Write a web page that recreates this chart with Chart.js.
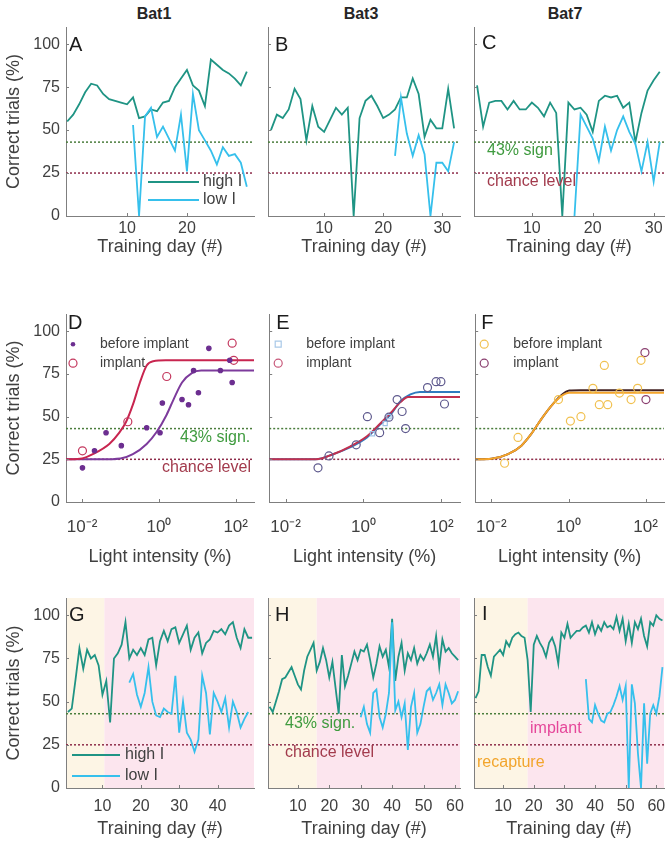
<!DOCTYPE html>
<html>
<head>
<meta charset="utf-8">
<script src="https://cdn.jsdelivr.net/npm/chart.js@4.4.1/dist/chart.umd.min.js"></script>
<style>
  body { margin: 0; background: #fff; }
  #fig { position: relative; width: 671px; height: 845px; overflow: hidden; font-family: "Liberation Sans", Arial, sans-serif; }
  #fig canvas { position: absolute; }
  .bat { position: absolute; top: 5px; width: 80px; margin-left: -40px; text-align: center; font-weight: bold; font-size: 16px; line-height: 18px; color: #262626; }
</style>
</head>
<body>
<div id="fig">
  <div class="bat" style="left:154px">Bat1</div>
  <div class="bat" style="left:361px">Bat3</div>
  <div class="bat" style="left:565px">Bat7</div>
</div>
<script>
// ---- data ----
const yTicks = [0, 25, 50, 75, 100];
const sigLevel = 43, chanceLevel = 25;

// row 1: training (high / low intensity), first day + daily values
const highA_start = 0;
const highA = [55,59,65,72,77,76,71,68,67,66,65,69,57,58,62,61,66,67,75,80,85,76,73,64,91,88,85,83,80,76,84];
const lowA_start = 11;
const lowA = [53,0,58,63,46,52,45,38,59,26,71,50,44,38,30,40,35,36,31,17];

const highB_start = 1;
const highB = [50,59,57,62,74,68,44,64,52,49,56,63,59,63,0,57,67,70,64,57,59,62,69,69,80,71,46,56,51,51,74,51];
const lowB_start = 22;
const lowB = [35,69,48,35,47,36,0,31,31,26,43];

const highC_start = 1;
const highC = [76,52,66,67,67,62,67,62,62,66,63,58,66,60,0,66,62,63,59,49,67,70,69,70,63,66,43,60,73,79,84];
const lowC_start = 17;
const lowC = [0,59,52,45,32,52,38,50,58,49,42,26,43,20,43];

// row 2: psychometric data (light intensity %, correct %) and fitted curves
const dBeforeX = [0.0102,0.021,0.042,0.105,0.48,1.07,1.23,4.0,5.9,8.0,10.7,20,40,70,81];
const dBeforeY = [20,30,40.6,33,43.5,40.6,58,60,57,77,64,90,77,83,70];
const dImplX = [0.0102,0.155,1.6,81,89];
const dImplY = [30,47,73.5,93,83];
const dBeforeFitX = [0.0038,0.03,0.1,0.21,0.48,0.87,1.58,2.4,4,7.2,12.6,300];
const dBeforeFitY = [25,25,25.5,28,34,41,51,60,70,75.5,77,77];
const dImplFitX = [0.0038,0.01,0.019,0.051,0.093,0.14,0.21,0.32,0.48,0.71,1.5,300];
const dImplFitY = [25,25.5,28,34,40.6,47,57,70,80,82.5,83,83];

const eBeforeX = [1.7,3.6,4.5];
const eBeforeY = [40,46,50];
const eImplX = [0.068,0.13,0.65,1.26,2.6,4.5,7.3,9.8,12,44,73,97,120];
const eImplY = [20,27,33.5,50,40.6,49.7,60,53,43,67,70.5,70.5,57.4];
const eBeforeFitX = [0.0038,0.06,0.166,0.45,1.23,2.7,4.9,8.9,16,28,300];
const eBeforeFitY = [25,25,28,32,37.8,45.5,51,59,63,64.5,64.5];
const eImplFitX = [0.0038,0.06,0.166,0.45,1.23,2.7,4.9,8.9,14,300];
const eImplFitY = [25,25,28,32.5,38.5,46,52,58.5,61.5,61.5];

const fBeforeX = [0.022,0.049,0.55,1.12,2.1,4.3,6.3,8.5,10.4,21,42,62,76];
const fBeforeY = [22.7,37.8,60,47.4,50,66.6,57,80,57,63.8,60,66.6,83];
const fImplX = [96,102];
const fImplY = [87.5,60];
const fFitX = [0.0038,0.01,0.027,0.06,0.107,0.195,0.35,0.65,1.05,2,300];
const fBeforeFitY = [25,25.3,28,33,39.7,48.4,56,62,64,64,64];
const fImplFitY = [25,25.3,28,33,39.7,48.4,56,62.5,65.3,65.5,65.5];

// row 3: long training; recapture phase ends at phaseEnd, implant after
const phaseEnd = [10.5, 16, 18];
const highG_start = 1;
const highG = [44,46,63,81,69,80,75,77,71,54,62,38,75,78,83,96,75,80,77,81,77,86,87,71,85,91,85,92,93,84,89,94,80,87,90,78,84,86,91,90,92,89,94,96,87,81,92,87,87];
const lowG_start = 17;
const lowG = [61,66,54,47,55,70,50,42,41,46,44,43,65,32,50,32,28,21,28,65,55,31,55,50,44,52,35,50,44,35,40,44];

const highH_start = 1;
const highH = [47,44,50,56,63,64,67,70,65,60,57,68,76,80,84,68,73,81,74,64,73,58,43,77,59,65,72,79,74,80,79,83,74,64,72,82,76,80,70,98,62,76,84,68,78,74,81,72,77,74,78,83,76,88,70,86,79,81,78,76,74];
const lowH_start = 30;
const lowH = [41,47,37,32,55,57,41,35,43,55,96,45,50,41,49,22,47,55,32,37,47,56,58,51,55,60,48,60,55,49,51,56];

const highI_start = 1;
const highI = [52,56,77,77,70,65,76,78,80,77,85,82,87,89,90,88,87,74,44,83,88,84,81,76,84,87,82,72,90,87,95,87,89,91,91,93,94,90,96,89,94,91,96,93,94,92,99,91,98,85,95,84,96,92,98,88,82,96,94,100,98,97];
const lowI_start = 37;
const lowI = [63,40,38,48,43,39,38,43,44,48,53,59,51,59,0,60,49,20,0,49,14,43,48,43,53,70];

// ---- styling ----
const FONT = '"Liberation Sans", Arial, sans-serif';
const TXT = '#404040';
const AXIS = '#7f7f7f';
const HIGH = '#1f9484';
const LOW = '#36c0ec';
const SIG_COL = '#4a7d3c';
const CHANCE_COL = '#8e2c4a';
const SIG_TXT = '#3f9b3f';
const CHANCE_TXT = '#a23a4c';

const COLS = [{l: 66, w: 188}, {l: 268, w: 192}, {l: 474, w: 190}];
const ROWS = [
  {t: 27, h: 189, xH: 42, pad: 3},
  {t: 312, h: 190, xH: 66, pad: 15},
  {t: 598, h: 190, xH: 52, pad: 9}
];

const supMap = {'-': '\u207B', '0': '\u2070', '1': '\u00B9', '2': '\u00B2'};
function powLabel(v) {
  const e = Math.round(Math.log10(v));
  return '10' + String(e).split('').map(c => supMap[c]).join('');
}

function dayLine(start, vals, color) {
  return {data: vals.map((v, i) => ({x: start + i, y: v})), borderColor: color, borderWidth: 1.8, pointRadius: 0, tension: 0};
}
function fitLine(xs, ys, color) {
  return {data: xs.map((x, i) => ({x: x, y: ys[i]})), borderColor: color, borderWidth: 2, pointRadius: 0, cubicInterpolationMode: 'monotone'};
}
function dots(xs, ys, color, style, r, fill) {
  return {data: xs.map((x, i) => ({x: x, y: ys[i]})), showLine: false, pointStyle: style, pointRadius: r,
          pointBorderColor: color, pointBackgroundColor: fill || 'rgba(0,0,0,0)', pointBorderWidth: 1.2, borderColor: color};
}
function refLines(a, b) {
  return [
    {data: [{x: a, y: sigLevel}, {x: b, y: sigLevel}], borderColor: SIG_COL, borderWidth: 1.5, borderDash: [2, 2], pointRadius: 0},
    {data: [{x: a, y: chanceLevel}, {x: b, y: chanceLevel}], borderColor: CHANCE_COL, borderWidth: 1.5, borderDash: [2, 2], pointRadius: 0}
  ];
}

function drawMark(ctx, kind, color, x, y) {
  ctx.strokeStyle = color; ctx.fillStyle = color; ctx.lineWidth = 1.2;
  ctx.beginPath();
  if (kind === 'circle') {
    ctx.arc(x, y, 4, 0, Math.PI * 2);
    ctx.stroke();
  } else if (kind === 'rect') {
    ctx.rect(x - 3, y - 3, 6, 6);
    ctx.stroke();
  } else {
    ctx.arc(x, y, 2.3, 0, Math.PI * 2);
    ctx.fill();
  }
}

// letters, legends, notes, phase backgrounds, inward ticks
const deco = {
  id: 'deco',
  beforeDraw(chart, args, o) {
    if (o.phase == null) return;
    const {ctx, chartArea: a} = chart;
    const b = chart.scales.x.getPixelForValue(o.phase);
    ctx.save();
    ctx.fillStyle = '#fdf5e5';
    ctx.fillRect(a.left, a.top, b - a.left, a.bottom - a.top);
    ctx.fillStyle = '#fce5ee';
    ctx.fillRect(b, a.top, a.right - b, a.bottom - a.top);
    ctx.restore();
  },
  afterDraw(chart, args, o) {
    const {ctx, chartArea: a} = chart;
    const x = chart.scales.x, y = chart.scales.y;
    ctx.save();
    ctx.strokeStyle = AXIS; ctx.lineWidth = 1;
    ctx.beginPath();
    x.ticks.forEach(t => {
      const p = Math.round(x.getPixelForValue(t.value)) + 0.5;
      ctx.moveTo(p, a.bottom); ctx.lineTo(p, a.bottom - 3);
    });
    y.ticks.forEach(t => {
      const p = Math.round(y.getPixelForValue(t.value)) + 0.5;
      ctx.moveTo(a.left, p); ctx.lineTo(a.left + 3, p);
    });
    ctx.stroke();

    ctx.textAlign = 'left';
    ctx.textBaseline = 'alphabetic';
    ctx.fillStyle = '#1c1c1c';
    ctx.font = '20px ' + FONT;
    ctx.fillText(o.letter, a.left + o.lx, a.top + o.ly);

    (o.notes || []).forEach(n => {
      ctx.font = '16px ' + FONT;
      ctx.fillStyle = n.color;
      ctx.textBaseline = 'middle';
      ctx.fillText(n.text, a.left + n.dx, y.getPixelForValue(n.at) + n.dy);
    });

    (o.legend || []).forEach(l => {
      const lx = a.left + l.dx, ly = a.top + l.dy;
      if (l.kind === 'line') {
        ctx.strokeStyle = l.color; ctx.lineWidth = 2;
        ctx.beginPath(); ctx.moveTo(lx, ly); ctx.lineTo(lx + l.len, ly); ctx.stroke();
      } else {
        drawMark(ctx, l.kind, l.color, lx, ly);
      }
      ctx.font = l.size + 'px ' + FONT;
      ctx.fillStyle = TXT;
      ctx.textBaseline = 'middle';
      ctx.fillText(l.label, a.left + l.tx, ly);
    });
    ctx.restore();
  }
};

function makePanel(row, col, p) {
  const R = ROWS[row], C = COLS[col];
  const yW = col === 0 ? 63 : 4, padTop = 3, padR = 10;
  const cw = yW + C.w + padR, ch = padTop + R.h + R.xH;
  const cv = document.createElement('canvas');
  cv.width = cw; cv.height = ch;
  cv.style.left = (C.l - yW) + 'px';
  cv.style.top = (R.t - padTop) + 'px';
  cv.style.width = cw + 'px';
  cv.style.height = ch + 'px';
  document.getElementById('fig').appendChild(cv);
  const isLog = row === 1;

  new Chart(cv, {
    type: 'line',
    data: {datasets: p.datasets.concat(refLines(p.xMin, p.xMax))},
    options: {
      responsive: false,
      animation: false,
      events: [],
      layout: {padding: {top: padTop, right: padR, left: 0, bottom: 0}},
      plugins: {legend: {display: false}, tooltip: {enabled: false}, deco: p.deco},
      scales: {
        x: {
          type: isLog ? 'logarithmic' : 'linear',
          min: p.xMin, max: p.xMax,
          afterBuildTicks: s => { s.ticks = p.xTicks.map(v => ({value: v})); },
          afterFit: s => { s.height = R.xH; s.paddingLeft = 0; s.paddingRight = 0; },
          grid: {display: false, drawTicks: false},
          border: {display: true, color: AXIS, width: 1},
          ticks: {
            color: TXT, font: {family: FONT, size: isLog ? 17 : 16}, padding: R.pad, maxRotation: 0, autoSkip: false,
            callback: isLog ? (v => powLabel(v)) : (v => String(v))
          },
          title: {display: true, text: isLog ? 'Light intensity (%)' : 'Training day (#)', color: TXT,
                  font: {family: FONT, size: 18}, padding: 0}
        },
        y: {
          min: 0, max: 110,
          afterBuildTicks: s => { s.ticks = yTicks.map(v => ({value: v})); },
          afterFit: s => { s.width = yW; s.paddingTop = 0; s.paddingBottom = 0; },
          grid: {display: false, drawTicks: false},
          border: {display: true, color: AXIS, width: 1},
          ticks: {display: col === 0, color: TXT, font: {family: FONT, size: 16}, padding: 6},
          title: {display: col === 0, text: 'Correct trials (%)', color: TXT, font: {family: FONT, size: 18}, padding: 0}
        }
      }
    },
    plugins: [deco]
  });
}

const logMin = 0.0038, logMax = 300, logTicks = [0.01, 1, 100];
const hiLoLegend = (dx, dy1, dy2, len, tx) => [
  {kind: 'line', color: HIGH, dx: dx, dy: dy1, len: len, tx: tx, label: 'high I', size: 16},
  {kind: 'line', color: LOW, dx: dx, dy: dy2, len: len, tx: tx, label: 'low I', size: 16}
];

// row 1
makePanel(0, 0, {
  xMin: -0.2, xMax: 31.2, xTicks: [10, 20],
  datasets: [dayLine(lowA_start, lowA, LOW), dayLine(highA_start, highA, HIGH)],
  deco: {letter: 'A', lx: 3, ly: 24, legend: hiLoLegend(82, 155, 173, 51, 137)}
});
makePanel(0, 1, {
  xMin: 0.5, xMax: 33, xTicks: [10, 20, 30],
  datasets: [dayLine(lowB_start, lowB, LOW), dayLine(highB_start, highB, HIGH)],
  deco: {letter: 'B', lx: 7, ly: 24}
});
makePanel(0, 2, {
  xMin: 0.5, xMax: 31.7, xTicks: [10, 20, 30],
  datasets: [dayLine(lowC_start, lowC, LOW), dayLine(highC_start, highC, HIGH)],
  deco: {letter: 'C', lx: 8, ly: 22, notes: [
    {text: '43% sign', color: SIG_TXT, dx: 13, at: sigLevel, dy: 8},
    {text: 'chance level', color: CHANCE_TXT, dx: 13, at: chanceLevel, dy: 9}
  ]}
});

// row 2
makePanel(1, 0, {
  xMin: logMin, xMax: logMax, xTicks: logTicks,
  datasets: [
    dots(dBeforeX, dBeforeY, '#6c2e90', 'circle', 2.2, '#6c2e90'),
    dots(dImplX, dImplY, '#c4385e', 'circle', 4),
    fitLine(dImplFitX, dImplFitY, '#c8254f'),
    fitLine(dBeforeFitX, dBeforeFitY, '#7d3b9c')
  ],
  deco: {letter: 'D', lx: 2, ly: 15,
    legend: [
      {kind: 'dot', color: '#6c2e90', dx: 7, dy: 30, tx: 34, label: 'before implant', size: 14},
      {kind: 'circle', color: '#c4385e', dx: 7, dy: 49, tx: 34, label: 'implant', size: 14}
    ],
    notes: [
      {text: '43% sign.', color: SIG_TXT, dx: 114, at: sigLevel, dy: 9},
      {text: 'chance level', color: CHANCE_TXT, dx: 96, at: chanceLevel, dy: 8}
    ]}
});
makePanel(1, 1, {
  xMin: logMin, xMax: logMax, xTicks: logTicks,
  datasets: [
    dots(eImplX, eImplY, '#5f5a8e', 'circle', 4),
    dots(eBeforeX, eBeforeY, '#9fc2e6', 'rect', 3),
    fitLine(eImplFitX, eImplFitY, '#c2304f'),
    fitLine(eBeforeFitX, eBeforeFitY, '#2f7bbf')
  ],
  deco: {letter: 'E', lx: 7, ly: 15,
    legend: [
      {kind: 'rect', color: '#a9c9e8', dx: 9, dy: 30, tx: 37, label: 'before implant', size: 14},
      {kind: 'circle', color: '#c8587a', dx: 9, dy: 49, tx: 37, label: 'implant', size: 14}
    ]}
});
makePanel(1, 2, {
  xMin: logMin, xMax: logMax, xTicks: logTicks,
  datasets: [
    dots(fBeforeX, fBeforeY, '#f1c150', 'circle', 4),
    dots(fImplX, fImplY, '#8a3f6f', 'circle', 4),
    fitLine(fFitX, fBeforeFitY, '#f5a52b'),
    fitLine(fFitX, fImplFitY, '#432222')
  ],
  deco: {letter: 'F', lx: 6, ly: 15,
    legend: [
      {kind: 'circle', color: '#f1c150', dx: 9, dy: 30, tx: 38, label: 'before implant', size: 14},
      {kind: 'circle', color: '#8a3f6f', dx: 9, dy: 49, tx: 38, label: 'implant', size: 14}
    ]}
});

// row 3
makePanel(2, 0, {
  xMin: 0.5, xMax: 49.5, xTicks: [10, 20, 30, 40],
  datasets: [dayLine(lowG_start, lowG, LOW), dayLine(highG_start, highG, HIGH)],
  deco: {letter: 'G', lx: 3, ly: 23, phase: phaseEnd[0], legend: hiLoLegend(6, 157, 178, 48, 59)}
});
makePanel(2, 1, {
  xMin: 0.5, xMax: 61.6, xTicks: [10, 20, 30, 40, 50, 60],
  datasets: [dayLine(lowH_start, lowH, LOW), dayLine(highH_start, highH, HIGH)],
  deco: {letter: 'H', lx: 7, ly: 23, phase: phaseEnd[1], notes: [
    {text: '43% sign.', color: SIG_TXT, dx: 17, at: sigLevel, dy: 9.5},
    {text: 'chance level', color: CHANCE_TXT, dx: 17, at: chanceLevel, dy: 8}
  ]}
});
makePanel(2, 2, {
  xMin: 0.5, xMax: 62.5, xTicks: [10, 20, 30, 40, 50, 60],
  datasets: [dayLine(lowI_start, lowI, LOW), dayLine(highI_start, highI, HIGH)],
  deco: {letter: 'I', lx: 8, ly: 22, phase: phaseEnd[2], notes: [
    {text: 'implant', color: '#e5479a', dx: 56, at: sigLevel, dy: 14.5},
    {text: 'recapture', color: '#f2a52c', dx: 3, at: chanceLevel, dy: 18}
  ]}
});
</script>
</body>
</html>
